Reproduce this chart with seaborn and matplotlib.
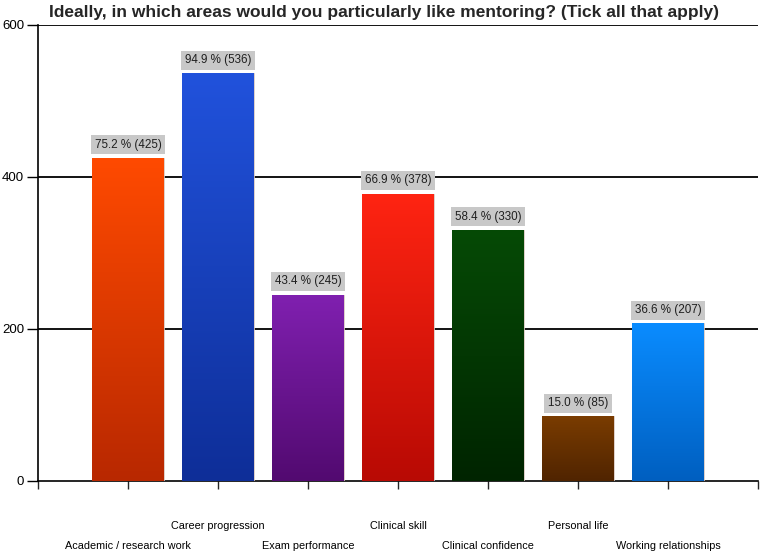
import numpy as np
import pandas as pd
import seaborn as sns
import matplotlib.pyplot as plt
from matplotlib.colors import LinearSegmentedColormap

categories = ['Academic / research work', 'Career progression', 'Exam performance',
              'Clinical skill', 'Clinical confidence', 'Personal life', 'Working relationships']
counts = [425, 536, 245, 378, 330, 85, 207]
percents = [75.2, 94.9, 43.4, 66.9, 58.4, 15.0, 36.6]
top_colors = ['#ff4a00', '#2152dc', '#8020b0', '#ff2412', '#064a06', '#7a3c00', '#0a8cff']
bottom_colors = ['#b82800', '#0e2e98', '#520a70', '#b80a04', '#002400', '#502400', '#005fc0']

df = pd.DataFrame({'area': categories, 'count': counts})

sns.set_style('white')
plt.rcParams['font.family'] = ['Liberation Sans', 'DejaVu Sans']

fig = plt.figure(figsize=(7.61, 5.52), dpi=100)
ax = fig.add_axes([0.05, 0.129, 0.946, 0.826])

sns.barplot(data=df, x='area', y='count', hue='area', palette=top_colors,
            legend=False, width=0.8, ax=ax, zorder=3)

# gradient fill for each bar
grad = np.linspace(0, 1, 256).reshape(-1, 1)
for patch, c_top, c_bot in zip(ax.patches, top_colors, bottom_colors):
    x0, y0 = patch.get_x(), patch.get_y()
    w, h = patch.get_width(), patch.get_height()
    cmap = LinearSegmentedColormap.from_list('g', [c_bot, c_top])
    im = ax.imshow(grad, cmap=cmap, aspect='auto', origin='lower',
                   extent=[x0, x0 + w, y0, y0 + h], zorder=3)
    im.set_clip_path(patch)
    patch.set_facecolor('none')
    patch.set_edgecolor('#d8c8c0')
    patch.set_linewidth(0.6)

ax.set_xlim(-1, 7)
ax.set_ylim(0, 600)

# value labels
labels = [f'{p:.1f} % ({c})' for p, c in zip(percents, counts)]
for i, (lab, c) in enumerate(zip(labels, counts)):
    ax.annotate(lab, (i, c), xytext=(0, 9.5), textcoords='offset points',
                ha='center', va='center', fontsize=8.4, color='#202020', zorder=5,
                bbox=dict(boxstyle='square,pad=0.3', facecolor='#c8c8c8', edgecolor='none'))

# grid lines
for yv in [200, 400, 600]:
    ax.axhline(yv, color='black', lw=1.3, zorder=1)

ax.set_yticks([0, 200, 400, 600])
ax.tick_params(axis='y', length=8, width=1, labelsize=9.5, pad=2, colors='black')
ax.set_xticks(range(-1, 8))
ax.set_xticklabels([''] * 9)
ax.tick_params(axis='x', length=6, width=1, direction='out')
ax.tick_params(axis='both', which='both', bottom=True, left=True)

for i, cat in enumerate(categories):
    yy = -0.099 if i % 2 == 1 else -0.1425
    ax.text(i, yy, cat, transform=ax.get_xaxis_transform(), ha='center', va='center',
            fontsize=7.8, color='black')

ax.set_xlabel('')
ax.set_ylabel('')
sns.despine(ax=ax, top=True, right=True)
ax.spines['left'].set_color('black')
ax.spines['bottom'].set_color('black')
ax.spines['left'].set_linewidth(1.2)
ax.spines['bottom'].set_linewidth(1.2)

fig.text(0.505, 0.978, 'Ideally, in which areas would you particularly like mentoring? (Tick all that apply)',
         ha='center', va='center', fontsize=12.5, fontweight='bold')

fig.savefig('out.png', dpi=100)
